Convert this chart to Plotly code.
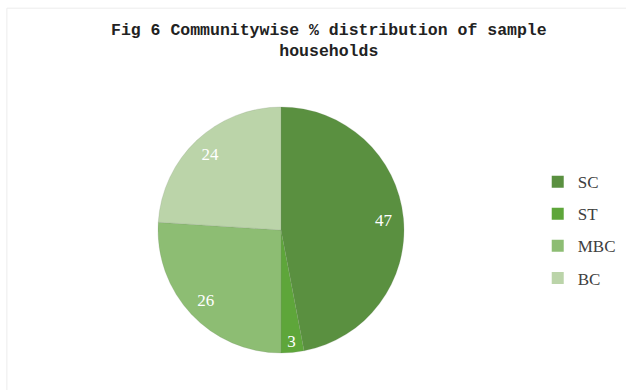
import plotly.graph_objects as go

categories = ["SC", "ST", "MBC", "BC"]
values = [47, 3, 26, 24]
colors = ["#5a9040", "#5ea63a", "#8dbd73", "#bbd4a9"]
title_text = "Fig 6 Communitywise % distribution of sample<br>households"

W, H = 626, 390
cx, cy, r = 281, 230, 123
dom_x = [(cx - r) / W, (cx + r) / W]
dom_y = [(H - cy - r) / H, (H - cy + r) / H]

fig = go.Figure()
# coloured pie
fig.add_trace(go.Pie(
    labels=categories, values=values, sort=False, direction="clockwise",
    rotation=0, marker=dict(colors=colors, line=dict(color="rgba(120,140,110,0.35)", width=0.6)),
    textinfo="none", hoverinfo="label+value", showlegend=False,
    domain=dict(x=dom_x, y=dom_y),
))
# transparent ring carrying the labels near the rim
fig.add_trace(go.Pie(
    labels=categories, values=values, sort=False, direction="clockwise",
    rotation=0, hole=0.68,
    marker=dict(colors=["rgba(0,0,0,0)"] * len(values), line=dict(width=0)),
    textinfo="value", textposition="inside", insidetextorientation="horizontal",
    textfont=dict(family="Liberation Serif, Times New Roman, serif", size=17, color="white"),
    hoverinfo="skip", showlegend=False,
    domain=dict(x=dom_x, y=dom_y),
))
# legend entries
for name, col in zip(categories, colors):
    fig.add_trace(go.Scatter(
        x=[None], y=[None], mode="markers", name=name, legendgroup=name,
        marker=dict(symbol="square", size=8, color=col),
    ))

fig.update_layout(
    width=W, height=H,
    margin=dict(l=0, r=0, t=0, b=0),
    paper_bgcolor="white", plot_bgcolor="white",
    xaxis=dict(visible=False), yaxis=dict(visible=False),
    legend=dict(
        x=0.859, xanchor="left", y=0.41, yanchor="middle",
        font=dict(family="Liberation Serif, Times New Roman, serif", size=17, color="#404040"),
        tracegroupgap=7, itemsizing="constant", bgcolor="rgba(0,0,0,0)",
    ),
    annotations=[dict(
        text="<b>" + title_text + "</b>", xref="paper", yref="paper",
        x=0.525, xanchor="center", y=1 - 41 / H, yanchor="middle",
        showarrow=False, align="center",
        font=dict(family="Liberation Mono, Courier New, monospace", size=16.5, color="#222222"),
    )],
    shapes=[dict(type="rect", xref="paper", yref="paper", x0=0.011, x1=1.2, y0=-0.2, y1=0.979,
                 line=dict(color="#ececec", width=1))],
)

fig.write_html("out.html")
